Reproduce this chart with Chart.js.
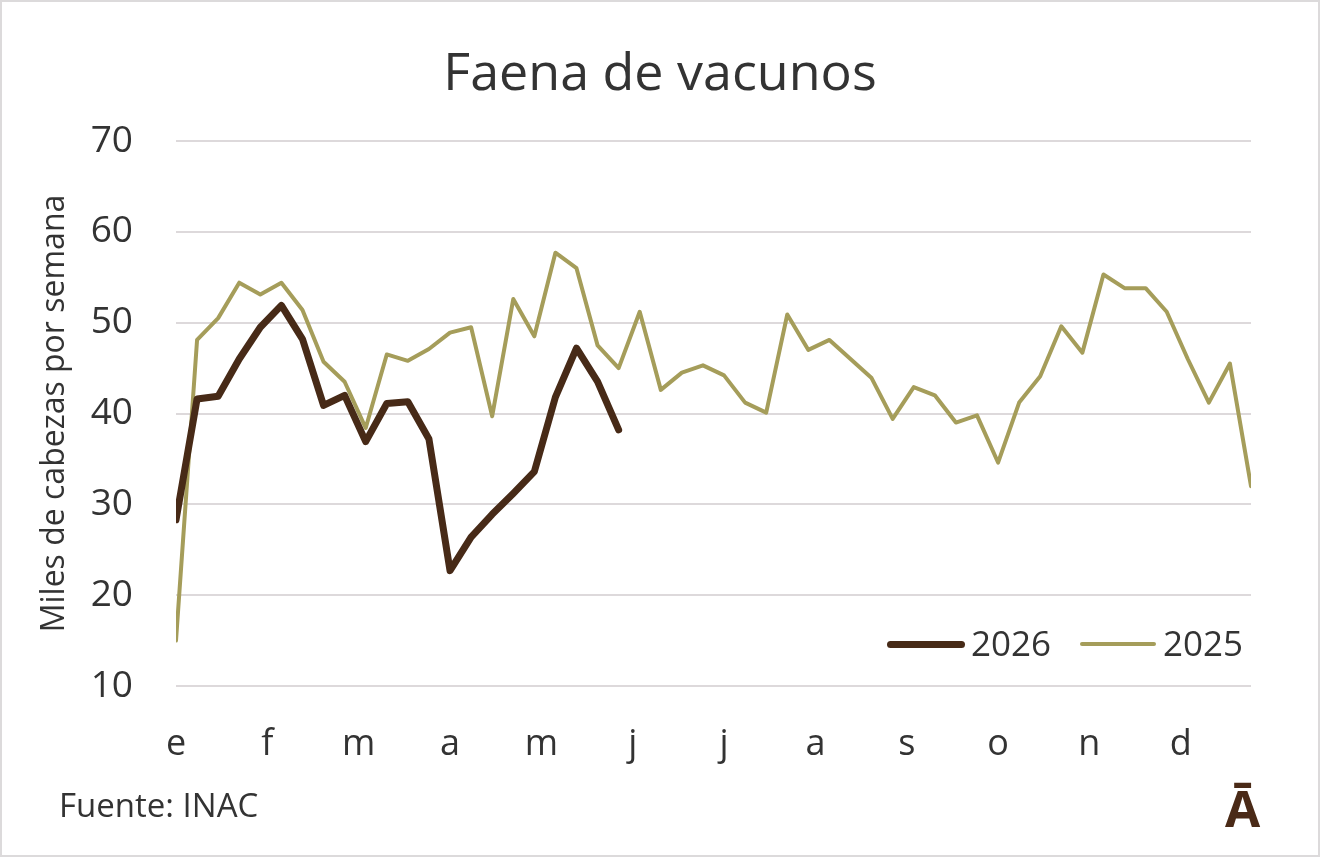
<!DOCTYPE html>
<html lang="es">
<head>
<meta charset="utf-8">
<title>Faena de vacunos</title>
<script src="https://cdn.jsdelivr.net/npm/chart.js@4.4.1/dist/chart.umd.min.js"></script>
<style>
  html, body { margin: 0; padding: 0; background: #fff; }
  body { width: 1320px; height: 857px; position: relative; overflow: hidden; font-family: "Open Sans", sans-serif; color: #333; }
  #wrap { position: absolute; left: 0; top: 0; width: 1320px; height: 857px; }
  .frame { position: absolute; left: 0; top: 0; width: 1320px; height: 857px; box-sizing: border-box; border: 2px solid #dcdadb; pointer-events: none; }
  .title { position: absolute; left: 0; top: 44px; width: 1320px; text-align: center; font-size: 52px; line-height: 52px; }
  .source { position: absolute; left: 59px; top: 788px; font-size: 33px; line-height: 33px; }
  .logo { position: absolute; left: 1225px; top: 782px; font-size: 51px; line-height: 51px; font-weight: 700; color: #4a2a17; }
  .legend { position: absolute; top: 0; left: 0; }
  .legend .swatch { position: absolute; border-radius: 4px; }
  .legend .label { position: absolute; font-size: 35px; line-height: 35px; top: 625px; }
</style>
</head>
<body>
<div id="wrap"><canvas id="chart" width="1320" height="857"></canvas></div>
<div class="title">Faena de vacunos</div>
<div class="legend" id="legend"></div>
<div class="source">Fuente: INAC</div>
<div class="logo">Ā</div>
<div class="frame"></div>

<script>
// Weekly slaughter, thousands of head
const monthLabels = ['e', 'f', 'm', 'a', 'm', 'j', 'j', 'a', 's', 'o', 'n', 'd'];
const yTicks = [10, 20, 30, 40, 50, 60, 70];

const series2026 = [28.3, 41.6, 41.9, 46.0, 49.5, 51.9, 48.2, 40.9, 42.0, 36.9, 41.1,
  41.3, 37.2, 22.7, 26.4, 28.9, 31.2, 33.6, 41.8, 47.2, 43.5, 38.2];

const series2025 = [15.0, 48.1, 50.5, 54.4, 53.1, 54.4, 51.4, 45.7, 43.5, 38.4, 46.5,
  45.8, 47.1, 48.9, 49.5, 39.7, 52.6, 48.5, 57.7, 56.0, 47.5, 45.0, 51.2, 42.6,
  44.5, 45.3, 44.2, 41.2, 40.1, 50.9, 47.0, 48.1, 46.0, 43.9, 39.4, 42.9, 42.0,
  39.0, 39.8, 34.6, 41.2, 44.1, 49.6, 46.7, 55.3, 53.8, 53.8, 51.2, 46.0, 41.2,
  45.5, 32.0];

const seriesNames = ['2026', '2025'];
const seriesColors = ['#472a17', '#a59d5a'];
const seriesWidths = [7, 4];

const WEEKS = 52;
const textColor = '#333333';
const gridColor = '#ddd9db';

// week index as x, so month ticks can sit between weeks
function toPoints(values) {
  return values.map((v, i) => ({ x: i, y: v }));
}

const datasets = [series2026, series2025].map((s, i) => ({
  label: seriesNames[i],
  data: toPoints(s),
  borderColor: seriesColors[i],
  backgroundColor: seriesColors[i],
  borderWidth: seriesWidths[i],
  pointRadius: 0,
  tension: 0,
  borderJoinStyle: 'round',
  borderCapStyle: 'round',
  fill: false
}));

const ctx = document.getElementById('chart');
new Chart(ctx, {
  type: 'line',
  data: { datasets },
  options: {
    responsive: false,
    animation: false,
    events: [],
    layout: { padding: { left: 18, right: 69, top: 141, bottom: 0 } },
    plugins: {
      legend: { display: false },
      tooltip: { enabled: false },
      title: { display: false }
    },
    scales: {
      x: {
        type: 'linear',
        min: 0,
        max: WEEKS - 1,
        grid: { display: false, drawTicks: false },
        border: { display: false },
        afterBuildTicks: (scale) => {
          scale.ticks = monthLabels.map((m, i) => ({ value: i * WEEKS / 12 }));
        },
        afterFit: (scale) => { scale.height = 171; },
        ticks: {
          autoSkip: false,
          maxRotation: 0,
          padding: 37,
          color: textColor,
          font: { family: 'Open Sans', size: 36 },
          callback: (v, i) => monthLabels[i]
        }
      },
      y: {
        min: 10,
        max: 70,
        grid: { color: gridColor, lineWidth: 2, drawTicks: false },
        border: { display: false },
        afterBuildTicks: (scale) => {
          scale.ticks = yTicks.map(v => ({ value: v }));
        },
        afterFit: (scale) => { scale.width = 158; },
        ticks: {
          padding: 43,
          color: textColor,
          font: { family: 'Open Sans', size: 37 }
        },
        title: {
          display: true,
          text: 'Miles de cabezas por semana',
          color: textColor,
          font: { family: 'Open Sans', size: 32 },
          padding: { top: 18, bottom: 0 }
        }
      }
    }
  }
});

// Legend inside the plot, bottom right
const legendPos = [
  { line: 887, lineW: 78, text: 971 },
  { line: 1080, lineW: 76, text: 1163 }
];
const legend = document.getElementById('legend');
seriesNames.forEach((name, i) => {
  const sw = document.createElement('div');
  sw.className = 'swatch';
  sw.style.left = legendPos[i].line + 'px';
  sw.style.width = legendPos[i].lineW + 'px';
  sw.style.height = seriesWidths[i] + 'px';
  sw.style.top = (644 - seriesWidths[i] / 2) + 'px';
  sw.style.background = seriesColors[i];
  legend.appendChild(sw);

  const lb = document.createElement('div');
  lb.className = 'label';
  lb.style.left = legendPos[i].text + 'px';
  lb.textContent = name;
  legend.appendChild(lb);
});
</script>
</body>
</html>
